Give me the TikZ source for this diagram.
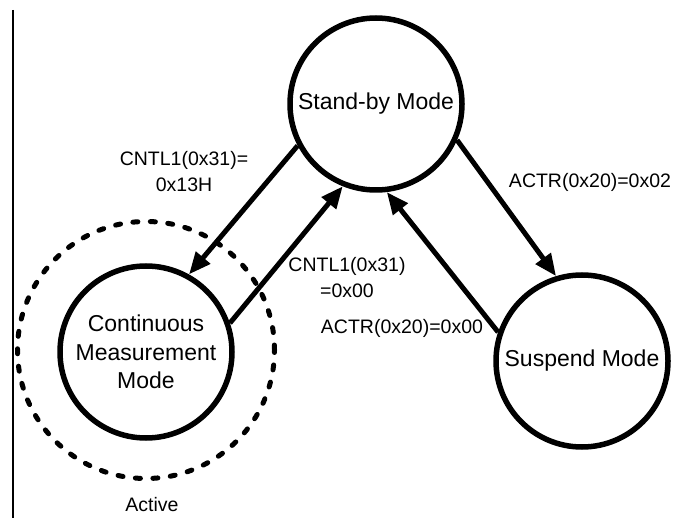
\documentclass[tikz,border=0pt]{standalone}
\usepackage{fontspec}
\setmainfont{Liberation Sans}
\usetikzlibrary{arrows.meta}

\begin{document}
\begin{tikzpicture}[x=1pt,y=-1pt,
    mode/.style={circle,draw,line width=5.5pt,minimum size=172pt,inner sep=0,align=center,font=\fontsize{23}{28.5}\selectfont},
    lbl/.style={align=center,inner sep=0,font=\fontsize{19.5}{26}\selectfont},
    trans/.style={line width=5pt,-{Triangle[length=22pt,width=18pt]}}]
  \useasboundingbox (0,0) rectangle (676,518);
      \coordinate (T) at (13, 10);
        \coordinate (U) at (13, 518);
  \draw [line width=1.2pt](T)--(U);
      \node [mode] (sb) at (376, 104) {Stand-by Mode};
        \node [mode] (cm) at (146, 352) {Continuous\\Measurement\\Mode};
          \node [mode] (sp) at (582, 361) {Suspend Mode};
  \node [circle,draw,line width=5pt,minimum size=257pt,dash pattern=on 5pt off 12.5pt,line cap=round] (act) at (146, 350) {};
     \node [lbl] at (152, 505){Active};
  \draw [trans](sb.208)--(cm.61);
  \draw [trans](cm.19)--(sb.248);
  \draw [trans](sp.161)--(sb.277);
  \draw [trans](sb.336)--(sp.107);
     \node [lbl] at (184, 172){CNTL1(0x31)=\\0x13H};
       \node [lbl] at (590, 182){ACTR(0x20)=0x02};
         \node [lbl] at (347, 277.5){CNTL1(0x31)\\=0x00};
           \node [lbl] at (402, 328){ACTR(0x20)=0x00};
   \end{tikzpicture}
\end{document}
